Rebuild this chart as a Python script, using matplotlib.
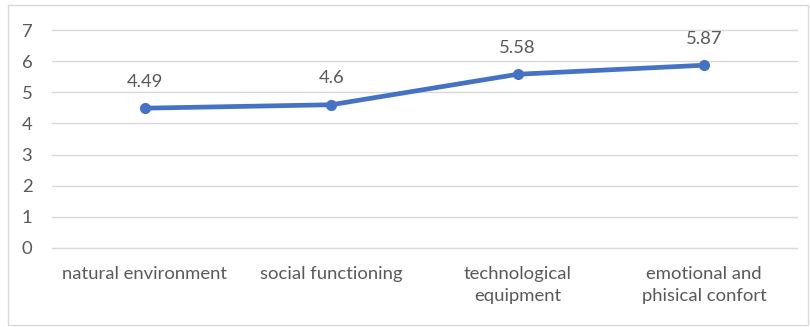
import matplotlib.pyplot as plt
from matplotlib.patches import Rectangle

categories = ['natural environment', 'social functioning',
              'technological\nequipment', 'emotional and\nphisical confort']
values = [4.49, 4.6, 5.58, 5.87]
labels = ['4.49', '4.6', '5.58', '5.87']
yticks = [0, 1, 2, 3, 4, 5, 6, 7]

plt.rcParams['font.family'] = ['Lato', 'DejaVu Sans']
txt = '#595959'
fs = 13.3

fig = plt.figure(figsize=(8.1, 3.27), dpi=100)
ax = fig.add_axes([0.064, 0.242, 0.920, 0.666])

x = list(range(len(values)))
ax.plot(x, values, color='#4472C4', linewidth=3.4, marker='o', markersize=7,
        solid_capstyle='round', zorder=3)
for xi, v, lab in zip(x, values, labels):
    ax.annotate(lab, (xi, v), xytext=(0, 19), textcoords='offset points',
                ha='center', va='center', fontsize=fs, color=txt)

ax.set_xlim(-0.5, len(values) - 0.5)
ax.set_ylim(0, 7)
ax.set_yticks(yticks)
ax.set_xticks(x)
ax.set_xticklabels(categories, fontsize=fs, color=txt, linespacing=1.45, va='top')
ax.tick_params(axis='y', labelsize=fs, colors=txt, length=0, pad=14)
ax.tick_params(axis='x', length=0, pad=13)
ax.grid(axis='y', color='#D9D9D9', linewidth=1)
for gl in ax.get_ygridlines():
    gl.set_clip_on(False)
ax.set_axisbelow(True)
for s in ax.spines.values():
    s.set_visible(False)

fig.patches.append(Rectangle((0.01, 0.006), 0.987, 0.978, transform=fig.transFigure,
                             fill=False, edgecolor='#D9D9D9', linewidth=1))

fig.savefig('out.png', dpi=100)
